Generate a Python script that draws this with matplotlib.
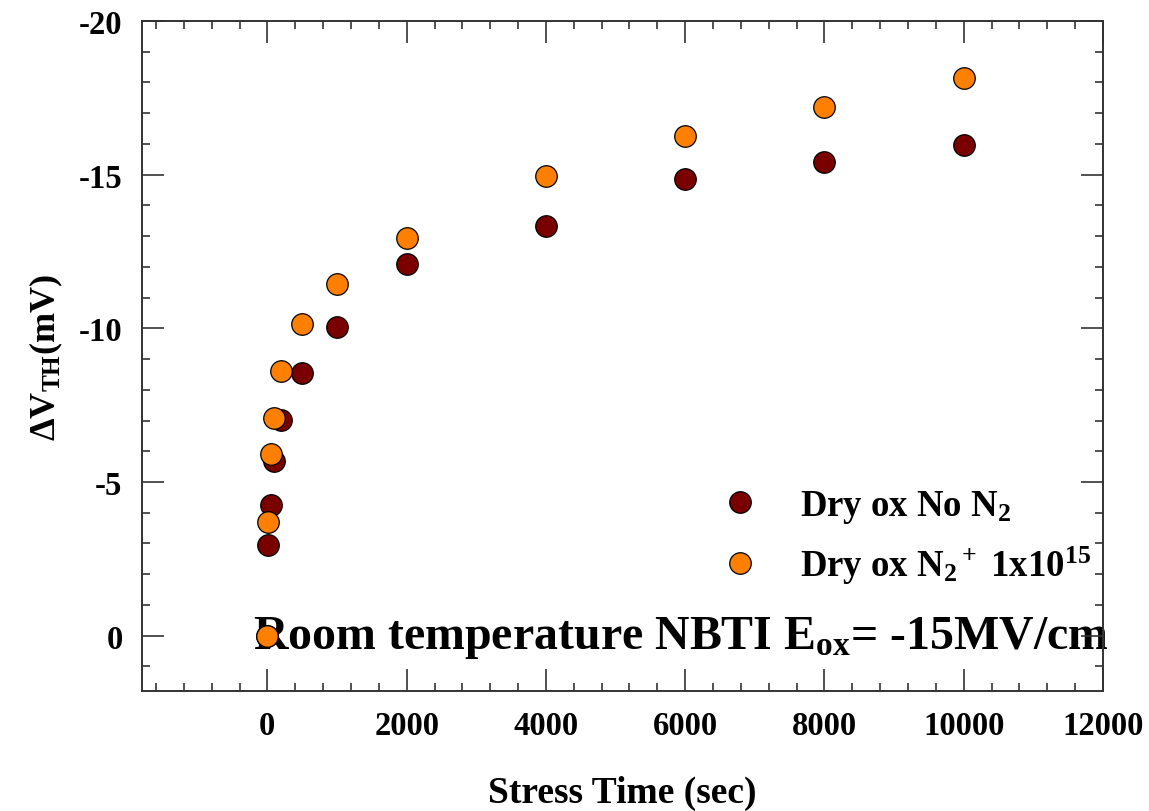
import matplotlib
matplotlib.use("Agg")
import matplotlib.pyplot as plt
from matplotlib.ticker import MultipleLocator

plt.rcParams['font.family'] = ['Liberation Serif', 'DejaVu Serif']
plt.rcParams['font.weight'] = 'bold'
plt.rcParams['axes.unicode_minus'] = False
plt.rcParams['mathtext.fontset'] = 'custom'
plt.rcParams['mathtext.rm'] = 'Liberation Serif:bold'
plt.rcParams['mathtext.it'] = 'Liberation Serif:bold'
plt.rcParams['mathtext.bf'] = 'Liberation Serif:bold'

# stress time (sec) and threshold voltage shift (mV)
t_dry = [0, 10, 50, 100, 200, 500, 1000, 2000, 4000, 6000, 8000, 10000]
dv_dry = [0, -2.94, -4.26, -5.69, -7.02, -8.55, -10.03, -12.08, -13.34, -14.87, -15.42, -15.97]
t_n2 = [0, 10, 50, 100, 200, 500, 1000, 2000, 4000, 6000, 8000, 10000]
dv_n2 = [0, -3.69, -5.92, -7.08, -8.6, -10.14, -11.43, -12.95, -14.97, -16.27, -17.21, -18.15]

fig = plt.figure(figsize=(11.49, 8.12), dpi=100)
ax = fig.add_axes([0.1236, 0.1478, 0.8364, 0.8251])

ax.text(0.1155, 0.08, r'Room temperature NBTI E$_{ox}$= -15MV/cm', transform=ax.transAxes,
        fontsize=34.5, fontweight='bold', va='center', ha='left', zorder=1)

ax.plot(t_dry, dv_dry, 'o', ms=15.5, mfc='#7a0000', mec='black', mew=0.9,
        label=r'Dry ox No N$_2$', zorder=3)
ax.plot(t_n2, dv_n2, 'o', ms=15.5, mfc='#ff8000', mec='black', mew=0.9,
        label=r'Dry ox N$_2$$^+$ 1x10$^{15}$', zorder=4)

ax.set_xlim(-1800, 12000)
ax.set_ylim(1.8, -20)
ax.xaxis.set_major_locator(MultipleLocator(2000))
ax.xaxis.set_minor_locator(MultipleLocator(400))
ax.yaxis.set_major_locator(MultipleLocator(5))
ax.yaxis.set_minor_locator(MultipleLocator(1))
ax.tick_params(which='both', direction='in', top=True, right=True, labelsize=23.5,
               width=1.2, color='#333333')
ax.tick_params(which='major', length=16, pad=14)
ax.tick_params(which='minor', length=6)
for lab in ax.get_xticklabels() + ax.get_yticklabels():
    lab.set_fontweight('bold')
for s in ax.spines.values():
    s.set_linewidth(1.4)
    s.set_color('#333333')

ax.set_xlabel('Stress Time (sec)', fontsize=27, fontweight='bold', labelpad=24)
ax.set_ylabel(r'$\Delta$V$_{TH}$(mV)', fontsize=26, fontweight='bold', labelpad=10)

leg = ax.legend(loc='center left', bbox_to_anchor=(0.569, 0.23), frameon=False,
                fontsize=26.5, handletextpad=0.62, labelspacing=0.52, borderaxespad=0)

fig.savefig('out.png', dpi=100)
